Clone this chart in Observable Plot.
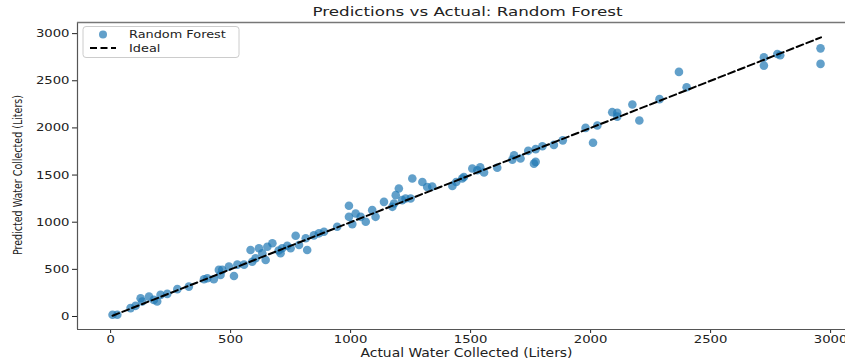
<!DOCTYPE html>
<html><head><meta charset="utf-8">
<script src="https://cdn.jsdelivr.net/npm/d3@7"></script>
<script src="https://cdn.jsdelivr.net/npm/@observablehq/plot@0.6"></script>
<style>
body{margin:0;background:#fff;overflow:hidden}
#chart{position:relative;width:845px;height:362px}
</style>
</head><body><div id="chart"></div>
<script>
// ---- data ----
const actual = [8, 28, 83, 104, 125, 132, 160, 180, 194, 208, 236, 278, 326, 389, 403, 430, 451, 458, 465, 493, 514, 528, 556, 583, 590, 604, 618, 632, 646, 653, 674, 700, 708, 715, 736, 750, 771, 785, 813, 819, 847, 868, 889, 944,
  993, 993, 1007, 1021, 1042, 1063, 1090, 1104, 1139, 1174, 1181, 1188, 1201, 1215, 1229, 1250, 1257, 1299, 1319, 1340, 1424, 1440, 1465, 1472, 1507, 1528, 1540, 1556, 1611, 1674, 1681, 1708, 1740, 1764, 1771, 1771, 1799, 1847, 1884, 1979, 2010, 2028,
  2090, 2111, 2111, 2174, 2203, 2287, 2368, 2400, 2722, 2722, 2778, 2790, 2958, 2958];
const predicted = [18, 18, 89, 113, 194, 159, 211, 176, 159, 229, 240, 290, 317, 395, 406, 395, 494, 441, 494, 529, 430, 550, 550, 705, 581, 617, 723, 670, 599, 740, 776, 700, 670, 723, 751, 723, 856, 758, 829, 705, 860, 882, 899, 951,
  1175, 1057, 980, 1093, 1057, 1004, 1128, 1057, 1216, 1163, 1199, 1287, 1357, 1234, 1251, 1251, 1463, 1427, 1374, 1378, 1385, 1427, 1463, 1480, 1570, 1551, 1582, 1528, 1577, 1664, 1709, 1676, 1757, 1621, 1640, 1775, 1805, 1820, 1868, 2000, 1842, 2026,
  2167, 2161, 2120, 2249, 2079, 2305, 2594, 2431, 2748, 2661, 2784, 2770, 2844, 2679];
const idealLine = [8, 2960];
const xTicks = [0, 500, 1000, 1500, 2000, 2500, 3000];
const yTicks = [0, 500, 1000, 1500, 2000, 2500, 3000];
const seriesNames = ["Random Forest", "Ideal"];
const titleText = "Predictions vs Actual: Random Forest";
const xLabel = "Actual Water Collected (Liters)";
const yLabel = "Predicted Water Collected (Liters)";

const points = actual.map((a, i) => ({actual: a, predicted: predicted[i]}));
const ideal = idealLine.map(v => ({x: v, y: v}));

const xDomain = [-138, 3062], yDomain = [-138, 3118];
const blue = "#1f77b4";
const fmt = d3.format("d");

const plot = Plot.plot({
  width: 845, height: 362,
  marginLeft: 77, marginRight: 0, marginTop: 22, marginBottom: 33,
  style: {fontFamily: "DejaVu Sans", fontSize: "11px", color: "#222", background: "#fff", overflow: "visible"},
  x: {domain: xDomain, ticks: xTicks, tickFormat: fmt, tickSize: 4, tickPadding: 2, label: null},
  y: {domain: yDomain, ticks: yTicks, tickFormat: fmt, tickSize: 5, tickPadding: 3, label: null},
  marks: [
    Plot.ruleX([xDomain[0]], {stroke: "#555", strokeWidth: 1.2}),
    Plot.ruleY([yDomain[0]], {stroke: "#555", strokeWidth: 1.2}),
    Plot.ruleY([yDomain[1]], {stroke: "#777", strokeWidth: 1.5}),
    Plot.dot(points, {x: "actual", y: "predicted", r: 4.3, fill: blue, fillOpacity: 0.7, stroke: "none"}),
    Plot.line(ideal, {x: "x", y: "y", stroke: "#000", strokeWidth: 2, strokeDasharray: "7,3.5"})
  ]
});
document.getElementById("chart").appendChild(plot);

const svg = d3.select(plot);
// stretch tick labels horizontally (reference is widened)
svg.selectAll('g[aria-label="x-axis tick label"] text, g[aria-label="y-axis tick label"] text').each(function() {
  const L = this.getComputedTextLength();
  d3.select(this).attr("textLength", L * 1.2).attr("lengthAdjust", "spacingAndGlyphs");
});

const xs = plot.scale("x");
const cx = (xs.range[0] + 858) / 2;

function addText(str, x, y, size, len, rotate) {
  const t = svg.append("text").text(str)
    .attr("font-family", "DejaVu Sans").attr("font-size", size).attr("fill", "#222")
    .attr("text-anchor", "middle").attr("dominant-baseline", "central")
    .attr("textLength", len).attr("lengthAdjust", "spacingAndGlyphs");
  if (rotate) t.attr("transform", `translate(${x},${y}) rotate(-90)`);
  else t.attr("x", x).attr("y", y);
  return t;
}
addText(titleText, cx, 11, 13, 310, false);
addText(xLabel, cx - 1, 353, 12, 212, false);
addText(yLabel, 18, 175, 12, 160, true);

// legend
const lg = svg.append("g");
lg.append("rect").attr("x", 83).attr("y", 26.5).attr("width", 156).attr("height", 31).attr("rx", 3)
  .attr("fill", "#fff").attr("fill-opacity", 0.8).attr("stroke", "#ccc");
lg.append("circle").attr("cx", 103).attr("cy", 34.5).attr("r", 4).attr("fill", blue).attr("fill-opacity", 0.7);
lg.append("line").attr("x1", 90).attr("x2", 116).attr("y1", 48).attr("y2", 48)
  .attr("stroke", "#000").attr("stroke-width", 2).attr("stroke-dasharray", "7,3.5");
seriesNames.forEach((n, i) => {
  const t = lg.append("text").text(n).attr("x", 129).attr("y", i === 0 ? 34.5 : 48)
    .attr("font-family", "DejaVu Sans").attr("font-size", 11).attr("fill", "#222")
    .attr("text-anchor", "start").attr("dominant-baseline", "central");
  const L = t.node().getComputedTextLength();
  t.attr("textLength", L * 1.17).attr("lengthAdjust", "spacingAndGlyphs");
});
</script>
</body></html>
